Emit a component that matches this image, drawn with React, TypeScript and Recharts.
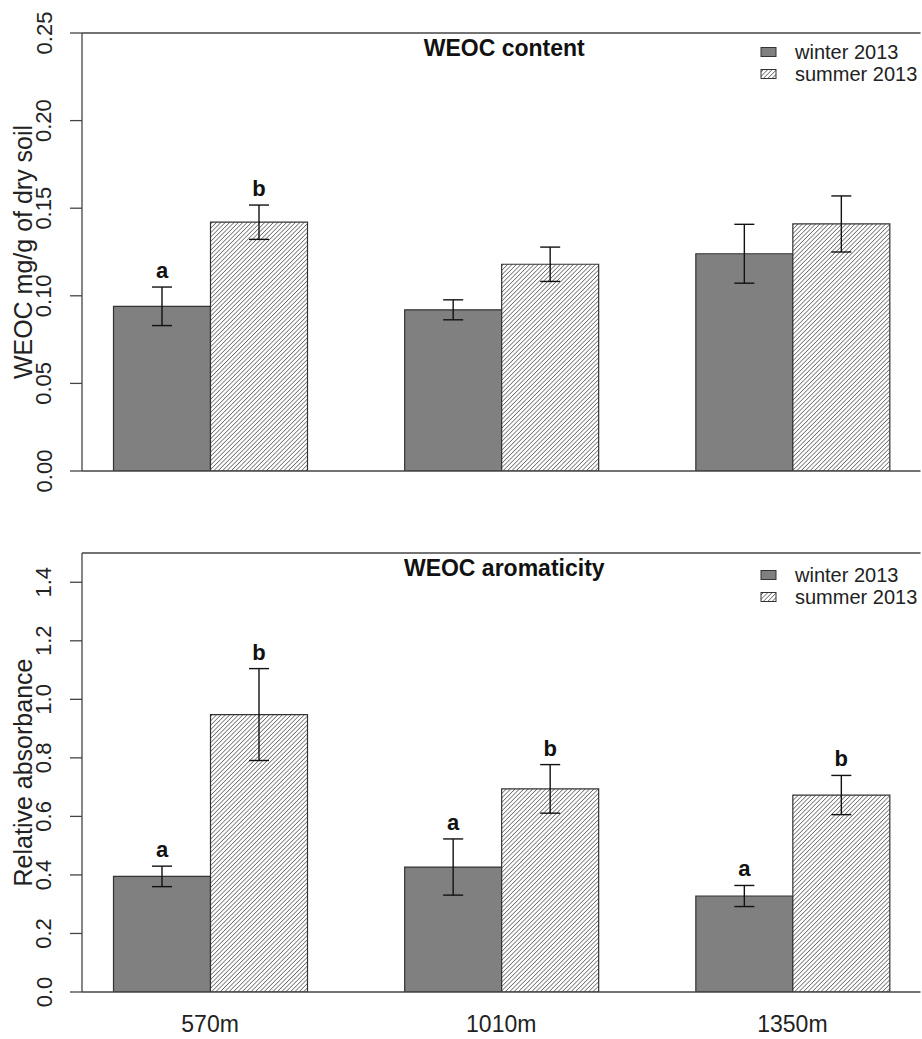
import { Bar, BarChart, ErrorBar, LabelList, Label, Legend, ReferenceLine, XAxis, YAxis } from 'recharts'

const sites = ['570m', '1010m', '1350m']

// WEOC content (mg/g of dry soil)
const contentWinter = [0.094, 0.092, 0.124]
const contentWinterErr = [0.011, 0.0057, 0.0168]
const contentSummer = [0.142, 0.118, 0.141]
const contentSummerErr = [0.0098, 0.0098, 0.016]
const contentWinterLetters = ['a', '', '']
const contentSummerLetters = ['b', '', '']
const contentTicks = [0, 0.05, 0.1, 0.15, 0.2, 0.25]

// WEOC aromaticity (relative absorbance)
const aromWinter = [0.395, 0.427, 0.328]
const aromWinterErr = [0.035, 0.096, 0.036]
const aromSummer = [0.948, 0.694, 0.673]
const aromSummerErr = [0.157, 0.083, 0.067]
const aromWinterLetters = ['a', 'a', 'a']
const aromSummerLetters = ['b', 'b', 'b']
const aromTicks = [0, 0.2, 0.4, 0.6, 0.8, 1.0, 1.2, 1.4]

const seasons = ['winter 2013', 'summer 2013']

const FONT = '"Liberation Sans", Arial, Helvetica, sans-serif'
const AXIS = '#444'
const GREY = '#808080'

type PanelProps = {
  id: string
  title: string
  yLabel: string
  winter: number[]
  winterErr: number[]
  summer: number[]
  summerErr: number[]
  winterLetters: string[]
  summerLetters: string[]
  ticks: number[]
  domainMax: number
  digits: number
  height: number
  top: number
  xAxisHeight: number
  legendTop: number
  showSites: boolean
}

function letterContent(vals: number[], errs: number[]) {
  return (props: any) => {
    const { value, index } = props
    if (!value) return null
    const x = Number(props.x)
    const y = Number(props.y)
    const w = Number(props.width)
    const h = Number(props.height)
    const top = y - (errs[index] * h) / vals[index]
    return (
      <text x={x + w / 2} y={top - 9} textAnchor="middle" fontSize={22} fontWeight="bold" fill="#111" fontFamily={FONT}>
        {value}
      </text>
    )
  }
}

function HatchDef({ id }: { id: string }) {
  return (
    <pattern id={id} patternUnits="userSpaceOnUse" width={3.1} height={3.1} patternTransform="rotate(45)">
      <rect width={3.1} height={3.1} fill="#fff" />
      <line x1={0} y1={0} x2={0} y2={3.1} stroke="#333" strokeWidth={1.15} />
    </pattern>
  )
}

function LegendBox({ id }: { id: string }) {
  return (
    <svg width={170} height={50} style={{ display: 'block' }}>
      <defs>
        <HatchDef id={id} />
      </defs>
      <rect x={6} y={9.5} width={15} height={9} fill={GREY} stroke="#333" strokeWidth={1} />
      <text x={40} y={14} dominantBaseline="central" fontSize={20} fill="#222" fontFamily={FONT}>
        {seasons[0]}
      </text>
      <rect x={6} y={31.5} width={15} height={9} fill={`url(#${id})`} stroke="#333" strokeWidth={1} />
      <text x={40} y={36} dominantBaseline="central" fontSize={20} fill="#222" fontFamily={FONT}>
        {seasons[1]}
      </text>
    </svg>
  )
}

function Panel(p: PanelProps) {
  const data = sites.map((site, i) => ({
    site,
    winter: p.winter[i],
    winterErr: p.winterErr[i],
    summer: p.summer[i],
    summerErr: p.summerErr[i],
    winterLetter: p.winterLetters[i],
    summerLetter: p.summerLetters[i],
  }))

  const yTick = (props: any) => {
    const y = Number(props.y)
    return (
      <text
        x={44}
        y={y}
        transform={`rotate(-90 44 ${y})`}
        textAnchor="middle"
        dominantBaseline="central"
        fontSize={22}
        fill="#222"
        fontFamily={FONT}
      >
        {Number(props.payload.value).toFixed(p.digits)}
      </text>
    )
  }

  const xTick = (props: any) => (
    <text x={Number(props.x)} y={Number(props.y) + 40} textAnchor="middle" fontSize={23} fill="#222" fontFamily={FONT}>
      {props.payload.value}
    </text>
  )

  return (
    <BarChart
      width={922}
      height={p.height}
      data={data}
      margin={{ top: p.top, right: 1.5, bottom: 0, left: 0 }}
      barGap={0}
      barSize={97}
    >
      <defs>
        <HatchDef id={`hatch-${p.id}`} />
      </defs>
      <XAxis
        dataKey="site"
        height={p.xAxisHeight}
        padding={{ left: -17.5, right: -17.5 }}
        axisLine={{ stroke: AXIS, strokeWidth: 1.3 }}
        tickLine={false}
        tickSize={0}
        tickMargin={0}
        tick={p.showSites ? xTick : false}
        interval={0}
      />
      <YAxis
        width={82}
        domain={[0, p.domainMax]}
        ticks={p.ticks}
        allowDataOverflow
        axisLine={{ stroke: AXIS, strokeWidth: 1.3 }}
        tickLine={{ stroke: AXIS, strokeWidth: 1.3 }}
        tickSize={12}
        tick={yTick}
        interval={0}
      >
        <Label
          content={(props: any) => {
            const vb = props.viewBox || {}
            const cy = Number(vb.y) + Number(vb.height) / 2
            return (
              <text
                x={23}
                y={cy}
                transform={`rotate(-90 23 ${cy})`}
                textAnchor="middle"
                dominantBaseline="central"
                fontSize={25}
                fill="#222"
                fontFamily={FONT}
              >
                {p.yLabel}
              </text>
            )
          }}
        />
      </YAxis>
      <YAxis
        yAxisId="right"
        orientation="right"
        width={0}
        domain={[0, p.domainMax]}
        axisLine={{ stroke: AXIS, strokeWidth: 1.3 }}
        tickLine={false}
        tick={false}
      />
      <ReferenceLine
        y={p.domainMax}
        stroke={AXIS}
        strokeWidth={1.3}
        label={(props: any) => {
          const vb = props.viewBox || {}
          return (
            <text
              x={Number(vb.x) + Number(vb.width) / 2 + 3}
              y={Number(vb.y) + 23}
              textAnchor="middle"
              fontSize={23}
              fontWeight="bold"
              fill="#111"
              fontFamily={FONT}
            >
              {p.title}
            </text>
          )
        }}
      />
      <Legend
        layout="vertical"
        align="center"
        verticalAlign="middle"
        wrapperStyle={{ top: p.legendTop, left: 755, width: 170 }}
        content={() => <LegendBox id={`legend-hatch-${p.id}`} />}
      />
      <Bar dataKey="winter" name={seasons[0]} fill={GREY} stroke="#333" strokeWidth={1.2} isAnimationActive={false}>
        <ErrorBar dataKey="winterErr" direction="y" width={10} stroke="#111" strokeWidth={1.4} />
        <LabelList dataKey="winterLetter" content={letterContent(p.winter, p.winterErr)} />
      </Bar>
      <Bar
        dataKey="summer"
        name={seasons[1]}
        fill={`url(#hatch-${p.id})`}
        stroke="#333"
        strokeWidth={1.2}
        isAnimationActive={false}
      >
        <ErrorBar dataKey="summerErr" direction="y" width={10} stroke="#111" strokeWidth={1.4} />
        <LabelList dataKey="summerLetter" content={letterContent(p.summer, p.summerErr)} />
      </Bar>
    </BarChart>
  )
}

export default function App() {
  return (
    <div style={{ position: 'absolute', left: 0, top: 0, width: 922, height: 1039, background: '#fff', fontFamily: FONT }}>
      <Panel
        id="content"
        title="WEOC content"
        yLabel="WEOC mg/g of dry soil"
        winter={contentWinter}
        winterErr={contentWinterErr}
        summer={contentSummer}
        summerErr={contentSummerErr}
        winterLetters={contentWinterLetters}
        summerLetters={contentSummerLetters}
        ticks={contentTicks}
        domainMax={0.25}
        digits={2}
        height={510}
        top={33}
        xAxisHeight={39}
        legendTop={38}
        showSites={false}
      />
      <Panel
        id="arom"
        title="WEOC aromaticity"
        yLabel="Relative absorbance"
        winter={aromWinter}
        winterErr={aromWinterErr}
        summer={aromSummer}
        summerErr={aromSummerErr}
        winterLetters={aromWinterLetters}
        summerLetters={aromSummerLetters}
        ticks={aromTicks}
        domainMax={1.5}
        digits={1}
        height={529}
        top={43}
        xAxisHeight={47}
        legendTop={51}
        showSites={true}
      />
    </div>
  )
}
